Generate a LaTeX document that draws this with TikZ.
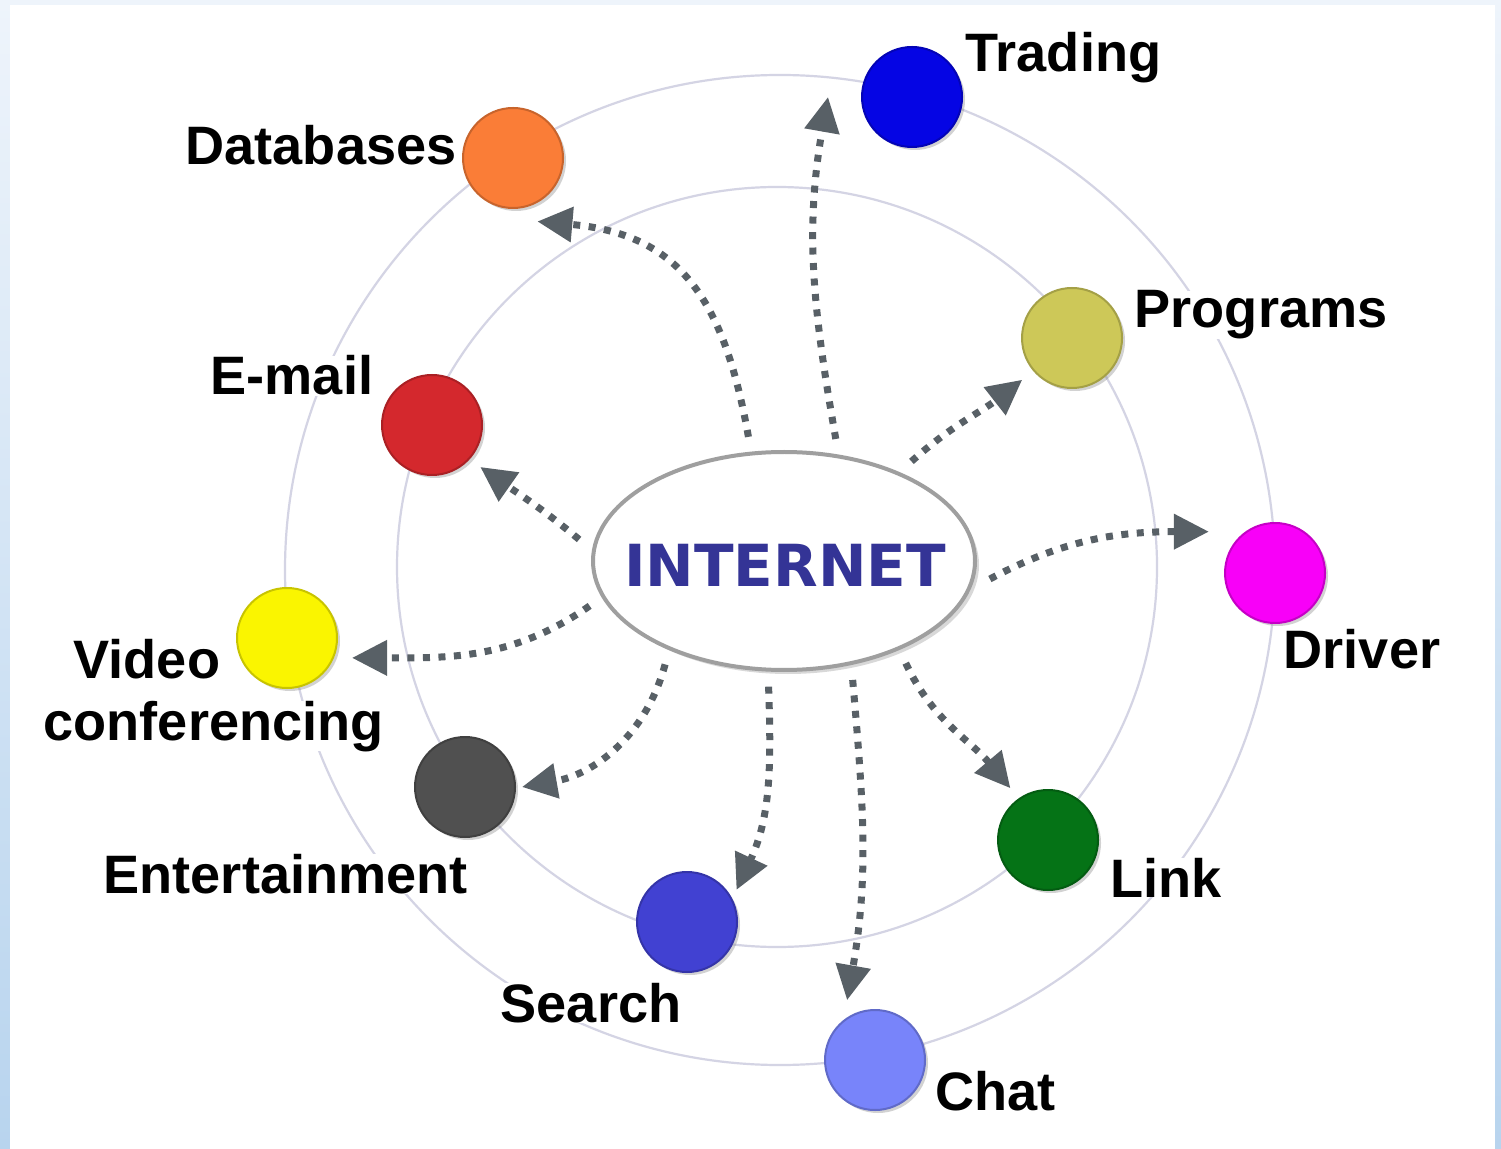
\documentclass[tikz,border=0pt]{standalone}
\usepackage{fontspec}
\setmainfont{Liberation Sans}
\newfontfamily\inetfont{DejaVu Sans}
\usetikzlibrary{arrows.meta,shapes.geometric,shadows}

\definecolor{orbitgray}{RGB}{212,212,228}
\definecolor{arrowgray}{RGB}{88,96,102}
\definecolor{inetblue}{RGB}{52,52,150}
\definecolor{frametop}{RGB}{238,244,251}
\definecolor{framebottom}{RGB}{184,212,238}
\definecolor{tradingcol}{RGB}{5,5,228}
\definecolor{databasescol}{RGB}{250,125,55}
\definecolor{programscol}{RGB}{205,200,88}
\definecolor{emailcol}{RGB}{212,40,45}
\definecolor{drivercol}{RGB}{248,0,248}
\definecolor{videocol}{RGB}{250,245,0}
\definecolor{entertaincol}{RGB}{80,80,80}
\definecolor{linkcol}{RGB}{5,115,22}
\definecolor{searchcol}{RGB}{65,65,210}
\definecolor{chatcol}{RGB}{120,132,250}

\tikzset{%
  >={Triangle[width=3.4mm,length=3.5mm]},
  % Specifications for style of nodes:
            ball/.style = {circle, minimum size=10mm, inner sep=0pt,
                           outer sep=1.4mm, fill=#1, draw=#1!80!black,
                           line width=0.2mm,
                           drop shadow={shadow xshift=0.3mm, shadow yshift=-0.3mm,
                                        opacity=0.35}},
             hub/.style = {ellipse, draw=gray!75, line width=0.4mm, fill=white,
                           minimum width=38.2mm, minimum height=21.8mm,
                           inner sep=0pt, outer sep=1.7mm,
                           drop shadow={shadow xshift=0.4mm, shadow yshift=-0.4mm,
                                        opacity=0.3}},
             tag/.style = {anchor=base west, inner sep=0pt, fill=white,
                           font=\bfseries\fontsize{15.4}{18}\selectfont},
           orbit/.style = {draw=orbitgray, line width=0.22mm},
            feed/.style = {->, draw=arrowgray, line width=0.7mm,
                           dash pattern=on 0.7mm off 0.85mm},
}

\begin{document}
\begin{tikzpicture}[x=0.1mm, y=0.1mm]
  \useasboundingbox (0,0) rectangle (1501,-1149);
  % frame
  \shade[top color=frametop, bottom color=framebottom] (0,0) rectangle (1501,-1149);
  \fill[white] (10,-5) rectangle (1495,-1149);

  % the two orbits
  \draw[orbit] (780,-570) circle[radius=495];
  \draw[orbit] (777,-567) circle[radius=380];

  % Specification of nodes (position, etc.)
  \node (inet)          [hub] at (784,-561) {};
  \node (inettext)      [font=\inetfont\bfseries\fontsize{16.5}{18}\selectfont,
                         text=inetblue] at (785,-565) {INTERNET};

  \node (trading)       [ball=tradingcol, outer sep=3.4mm] at (912,-97) {};
  \node (databases)     [ball=databasescol, outer sep=1.8mm] at (513,-158) {};
  \node (programs)      [ball=programscol, outer sep=1.5mm] at (1072,-338) {};
  \node (email)         [ball=emailcol] at (432,-425) {};
  \node (driver)        [ball=drivercol, outer sep=2.8mm] at (1275,-573) {};
  \node (video)         [ball=videocol, outer sep=1.8mm] at (287,-638) {};
  \node (entertainment) [ball=entertaincol, outer sep=0.7mm] at (465,-787) {};
  \node (link)          [ball=linkcol] at (1048,-840) {};
  \node (search)        [ball=searchcol, outer sep=0.9mm] at (687,-922) {};
  \node (chat)          [ball=chatcol, outer sep=1.6mm] at (875,-1060) {};

  \node (tradingtag)    [tag] at (965,-72) {Trading};
  \node (databasestag)  [tag] at (185,-165) {Databases};
  \node (programstag)   [tag] at (1134,-328) {Programs};
  \node (emailtag)      [tag] at (210,-395) {E-mail};
  \node (drivertag)     [tag] at (1283,-668) {Driver};
  \node (videotag)      [tag] at (73,-678) {Video};
  \node (videotag2)     [tag] at (43,-740) {conferencing};
  \node (entertaintag)  [tag] at (103,-893) {Entertainment};
  \node (linktag)       [tag] at (1110,-897) {Link};
  \node (searchtag)     [tag] at (500,-1022) {Search};
  \node (chattag)       [tag] at (935,-1110) {Chat};

  \draw[feed]  (inet.106) to[out=100, in=-5, looseness=1.2] (databases.-69);
  \draw[feed]  (inet.67)  to[out=100, in=-100] (trading.180);
  \draw[feed]  (inet.38)  to[out=42, in=-142] (programs.220);
  \draw[feed]  (inet.-5)  to[out=28, in=180] (driver.148);
  \draw[feed]  (inet.-40) to[out=-65, in=130] (link.126);
  \draw[feed]  (inet.-60) to[out=-85, in=80] (chat.115);
  \draw[feed]  (inet.-97) to[out=-88, in=65] (search.33);
  \draw[feed]  (inet.-139) to[out=-105, in=10] (entertainment.0);
  \draw[feed]  (inet.-167) to[out=-145, in=0] (video.-17);
  \draw[feed]  (inet.174) to[out=140, in=-35] (email.-41);

\end{tikzpicture}
\end{document}
